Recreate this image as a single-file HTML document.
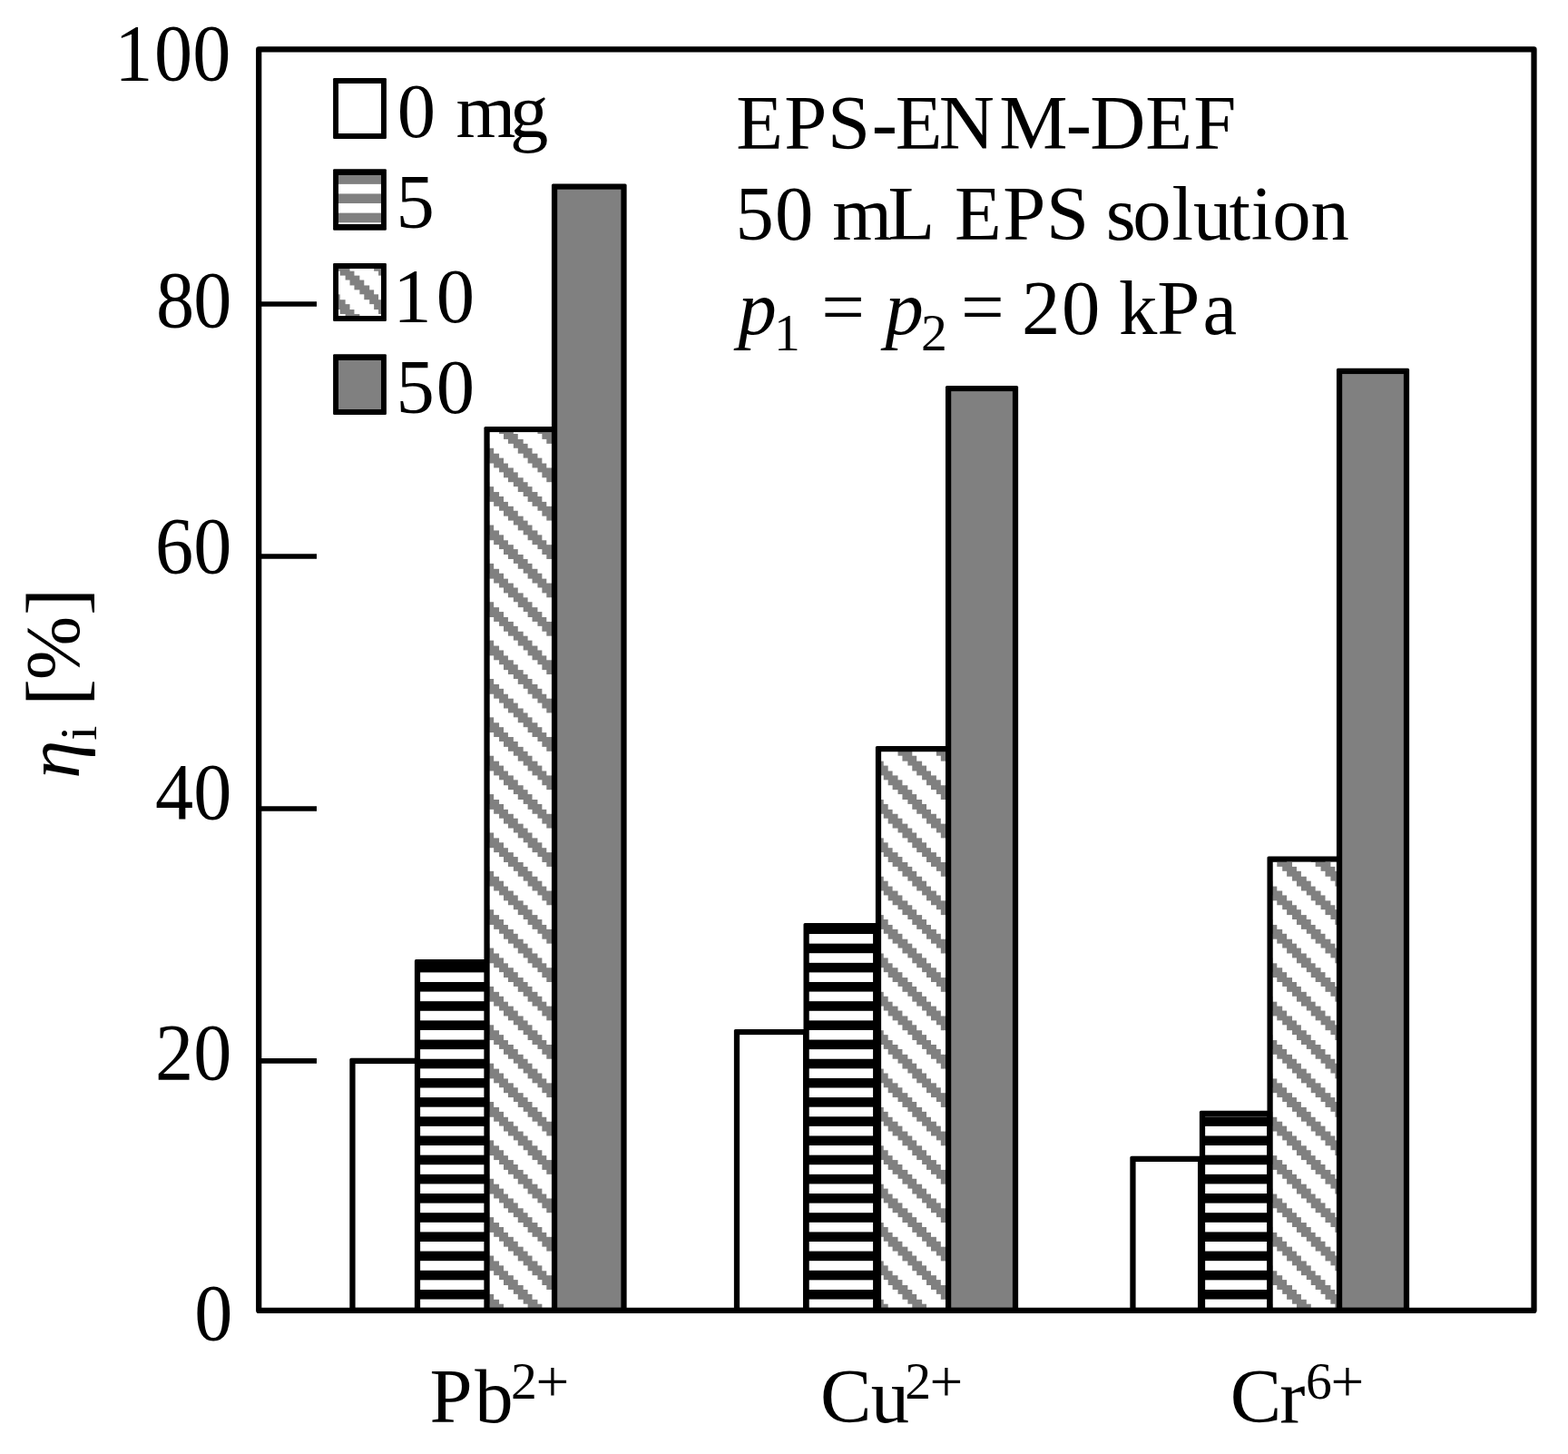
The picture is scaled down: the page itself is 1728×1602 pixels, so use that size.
<!DOCTYPE html>
<html lang="en"><head><meta charset="utf-8"><title>Removal efficiency chart</title>
<style>html,body{margin:0;padding:0;background:#fff;}body{width:1728px;height:1602px;overflow:hidden;}svg{display:block;}text{font-family:"Liberation Serif","Times New Roman",serif;font-size:84.67px;fill:#000;font-kerning:none;font-variant-ligatures:none;white-space:pre;}.i{font-style:italic;}</style>
</head><body>
<svg width="1728" height="1602" viewBox="0 0 1728 1602">
<defs>
<pattern id="pd" patternUnits="userSpaceOnUse" x="555.0" y="1082.0" width="42.368" height="42.368" shape-rendering="crispEdges"><rect x="0" y="0" width="42.368" height="42.368" fill="#fff"/><rect x="10.592" y="0.000" width="5.316" height="5.316" fill="#808080"/><rect x="15.888" y="0.000" width="5.316" height="5.316" fill="#808080"/><rect x="21.184" y="0.000" width="5.316" height="5.316" fill="#808080"/><rect x="15.888" y="5.296" width="5.316" height="5.316" fill="#808080"/><rect x="21.184" y="5.296" width="5.316" height="5.316" fill="#808080"/><rect x="26.480" y="5.296" width="5.316" height="5.316" fill="#808080"/><rect x="21.184" y="10.592" width="5.316" height="5.316" fill="#808080"/><rect x="26.480" y="10.592" width="5.316" height="5.316" fill="#808080"/><rect x="31.776" y="10.592" width="5.316" height="5.316" fill="#808080"/><rect x="26.480" y="15.888" width="5.316" height="5.316" fill="#808080"/><rect x="31.776" y="15.888" width="5.316" height="5.316" fill="#808080"/><rect x="37.072" y="15.888" width="5.316" height="5.316" fill="#808080"/><rect x="0.000" y="21.184" width="5.316" height="5.316" fill="#808080"/><rect x="31.776" y="21.184" width="5.316" height="5.316" fill="#808080"/><rect x="37.072" y="21.184" width="5.316" height="5.316" fill="#808080"/><rect x="0.000" y="26.480" width="5.316" height="5.316" fill="#808080"/><rect x="5.296" y="26.480" width="5.316" height="5.316" fill="#808080"/><rect x="37.072" y="26.480" width="5.316" height="5.316" fill="#808080"/><rect x="0.000" y="31.776" width="5.316" height="5.316" fill="#808080"/><rect x="5.296" y="31.776" width="5.316" height="5.316" fill="#808080"/><rect x="10.592" y="31.776" width="5.316" height="5.316" fill="#808080"/><rect x="5.296" y="37.072" width="5.316" height="5.316" fill="#808080"/><rect x="10.592" y="37.072" width="5.316" height="5.316" fill="#808080"/><rect x="15.888" y="37.072" width="5.316" height="5.316" fill="#808080"/></pattern>
<pattern id="ph" patternUnits="userSpaceOnUse" x="555.0" y="1082.0" width="42.368" height="21.184" shape-rendering="crispEdges"><rect x="0" y="0" width="42.368" height="21.184" fill="#fff"/><rect x="0" y="0" width="42.368" height="10.400" fill="#000"/></pattern>
<pattern id="phl" patternUnits="userSpaceOnUse" x="555.0" y="1082.0" width="42.368" height="21.184" shape-rendering="crispEdges"><rect x="0" y="0" width="42.368" height="21.184" fill="#fff"/><rect x="0" y="0" width="42.368" height="10.500" fill="#808080"/></pattern>
</defs>
<rect x="0" y="0" width="1728" height="1602" fill="#fff"/>
<rect x="385.32" y="1165.83" width="77.80" height="278.08" rx="1.6" fill="#000"/>
<rect x="456.88" y="1057.08" width="82.75" height="386.83" rx="1.6" fill="#000"/>
<rect x="533.42" y="469.88" width="80.75" height="974.03" rx="1.6" fill="#000"/>
<rect x="607.92" y="202.43" width="82.70" height="1241.48" rx="1.6" fill="#000"/>
<rect x="391.57" y="1172.08" width="65.30" height="268.70" fill="#fff"/>
<rect x="463.12" y="1063.33" width="70.25" height="377.45" fill="url(#ph)"/>
<rect x="539.67" y="476.12" width="68.25" height="964.65" fill="url(#pd)"/>
<rect x="614.17" y="208.68" width="70.20" height="1232.10" fill="#808080"/>
<rect x="808.88" y="1133.88" width="82.35" height="310.03" rx="1.6" fill="#000"/>
<rect x="885.48" y="1017.08" width="82.85" height="426.83" rx="1.6" fill="#000"/>
<rect x="964.88" y="821.98" width="83.35" height="621.93" rx="1.6" fill="#000"/>
<rect x="1041.97" y="424.88" width="80.15" height="1019.03" rx="1.6" fill="#000"/>
<rect x="815.12" y="1140.12" width="69.85" height="300.65" fill="#fff"/>
<rect x="891.73" y="1023.33" width="70.35" height="417.45" fill="url(#ph)"/>
<rect x="971.12" y="828.23" width="70.85" height="612.55" fill="url(#pd)"/>
<rect x="1048.22" y="431.12" width="67.65" height="1009.65" fill="#808080"/>
<rect x="1245.33" y="1273.78" width="80.90" height="170.12" rx="1.6" fill="#000"/>
<rect x="1321.88" y="1223.78" width="80.45" height="220.12" rx="1.6" fill="#000"/>
<rect x="1396.47" y="943.38" width="82.65" height="500.53" rx="1.6" fill="#000"/>
<rect x="1472.92" y="405.82" width="80.20" height="1038.08" rx="1.6" fill="#000"/>
<rect x="1251.58" y="1280.03" width="68.40" height="160.75" fill="#fff"/>
<rect x="1328.12" y="1230.03" width="67.95" height="210.75" fill="url(#ph)"/>
<rect x="1402.72" y="949.62" width="70.15" height="491.15" fill="url(#pd)"/>
<rect x="1479.17" y="412.07" width="67.70" height="1028.70" fill="#808080"/>
<rect x="285.2" y="54.45" width="1405.30" height="1389.45" stroke="#000" stroke-width="6.25" fill="none" stroke-linejoin="round"/>
<g stroke="#000" stroke-width="5.6" fill="none">
<line x1="285.2" y1="335.00" x2="349" y2="335.00"/>
<line x1="285.2" y1="613.00" x2="349" y2="613.00"/>
<line x1="285.2" y1="891.00" x2="349" y2="891.00"/>
<line x1="285.2" y1="1168.90" x2="349" y2="1168.90"/>
</g>
<text transform="translate(254.30,87.90) scale(0.9958,1.0393)" text-anchor="end" dx="0 1.7 0">100</text>
<text transform="translate(255.40,360.00) scale(0.9958,1.0393)" text-anchor="end" dx="0 -1.0">80</text>
<text transform="translate(255.40,631.10) scale(0.9958,1.0393)" text-anchor="end" dx="0 0">60</text>
<text transform="translate(255.40,901.70) scale(0.9958,1.0393)" text-anchor="end" dx="0 0">40</text>
<text transform="translate(255.40,1189.10) scale(0.9958,1.0393)" text-anchor="end" dx="0 0">20</text>
<text transform="translate(256.40,1476.00) scale(0.9958,1.0393)" text-anchor="end" dx="0">0</text>
<text transform="translate(87.30,855.70) rotate(-90)"><tspan x="-2.05" y="0.00" class="i">η</tspan><tspan x="39.88" y="18.80" font-size="57.70">i </tspan><tspan x="77.71" y="4.50" font-size="90.50">[</tspan><tspan x="106.51" y="0.00">%</tspan><tspan x="177.75" y="4.50" font-size="90.50">]</tspan></text>
<rect x="367.10" y="86.00" width="58.80" height="66.90" rx="1.2" fill="#000"/>
<rect x="372.90" y="91.60" width="47.20" height="55.65" fill="#fff" shape-rendering="crispEdges"/>
<rect x="367.10" y="186.20" width="58.80" height="67.60" rx="1.2" fill="#000"/>
<rect x="372.90" y="193.20" width="47.20" height="54.10" fill="url(#phl)" shape-rendering="crispEdges"/>
<rect x="367.10" y="289.90" width="58.80" height="64.00" rx="1.2" fill="#000"/>
<rect x="372.90" y="296.00" width="47.20" height="52.00" fill="url(#pd)" shape-rendering="crispEdges"/>
<rect x="367.10" y="390.30" width="58.80" height="66.70" rx="1.2" fill="#000"/>
<rect x="372.90" y="396.70" width="47.20" height="54.00" fill="#808080" shape-rendering="crispEdges"/>
<text transform="translate(440.70,150.90)"><tspan x="-2.92" y="0.00">0 </tspan><tspan x="61.69 121.27" y="0.00">mg</tspan></text>
<text transform="translate(442.00,251.00)"><tspan x="-5.57" y="0.00">5</tspan></text>
<text transform="translate(440.70,354.70)"><tspan x="-7.45" y="0.00">1</tspan><tspan x="40.08" y="0.00">0</tspan></text>
<text transform="translate(442.00,454.70)"><tspan x="-5.57" y="0.00">5</tspan><tspan x="38.78" y="0.00">0</tspan></text>
<text transform="translate(813.00,163.60)"><tspan x="-1.74 51.26 98.95 147.66 173.66 221.63 288.23 361.76 388.16 449.26 502.26" y="0.00">EPS-ENM-DEF</tspan></text>
<text transform="translate(816.10,263.80)"><tspan x="-5.72 37.88" y="0.00">50 </tspan><tspan x="101.19 162.36" y="0.00">mL </tspan><tspan x="235.96 289.06 336.95" y="0.00">EPS </tspan><tspan x="402.77 432.28 475.41 498.85 538.32 562.71 586.18 628.30" y="0.00">solution</tspan></text>
<text transform="translate(808.50,368.00)"><tspan x="5.04" y="0.00" class="i">p</tspan><tspan x="44.52" y="17.80" font-size="57.70">1 </tspan><tspan x="96.68" y="-1.20">= </tspan><tspan x="167.09" y="0.00" class="i">p</tspan><tspan x="206.40" y="17.80" font-size="57.70">2 </tspan><tspan x="250.43" y="-1.20">= </tspan><tspan x="317.61 361.43" y="0.00">20 </tspan><tspan x="424.59 466.76 516.90" y="0.00">kPa</tspan></text>
<text transform="translate(475.20,1566.70)"><tspan x="-1.74 47.94" y="0.00">Pb</tspan><tspan x="87.90" y="-25.50" font-size="57.70">2</tspan><tspan x="115.31" y="-23.05" font-size="65.20">+</tspan></text>
<text transform="translate(906.00,1566.70)"><tspan x="-1.99 53.85" y="0.00">Cu</tspan><tspan x="91.20" y="-25.50" font-size="57.70">2</tspan><tspan x="118.38" y="-23.05" font-size="65.20">+</tspan></text>
<text transform="translate(1357.80,1566.70)"><tspan x="-2.04 52.45" y="0.00">Cr</tspan><tspan x="81.09" y="-25.50" font-size="57.70">6</tspan><tspan x="108.73" y="-23.05" font-size="65.20">+</tspan></text>
</svg>
</body></html>
